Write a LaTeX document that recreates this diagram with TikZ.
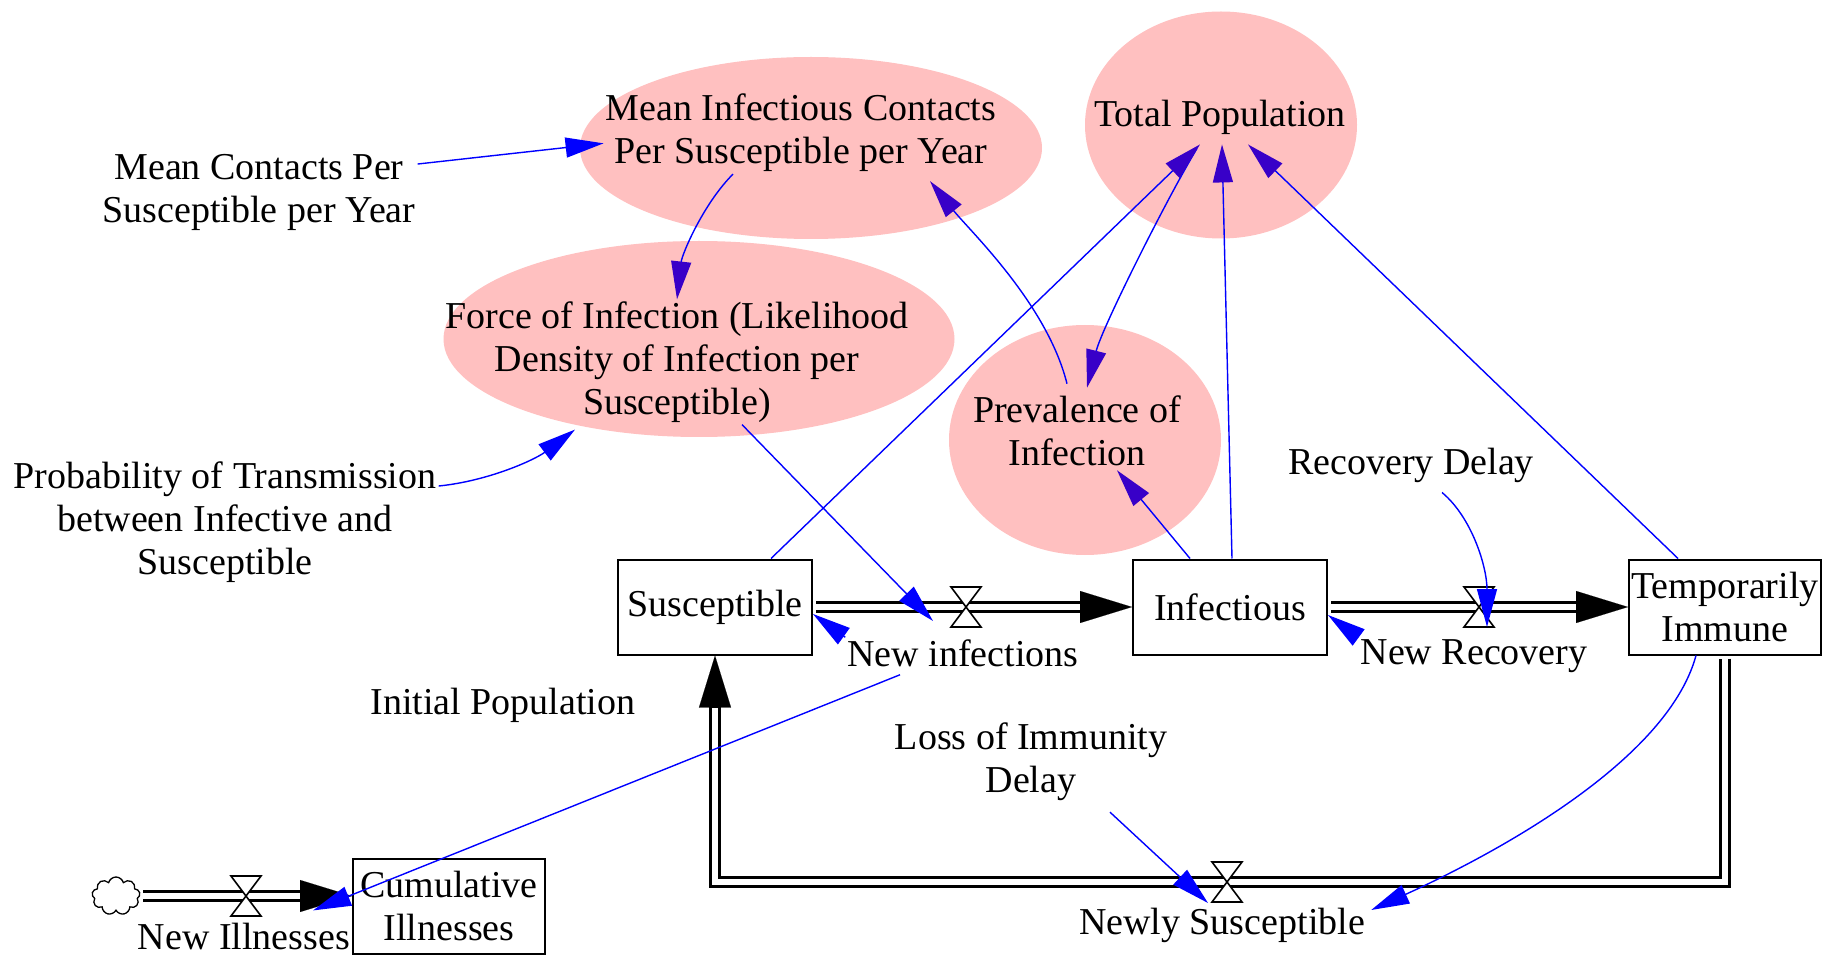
\documentclass[tikz,border=0pt]{standalone}
\usepackage{fontspec}
\setmainfont{Liberation Serif}
\usetikzlibrary{arrows.meta,shapes.geometric,shapes.symbols,calc}
\definecolor{pinkfill}{RGB}{255,192,192}
\definecolor{linkblue}{RGB}{0,0,255}
\definecolor{tipviolet}{RGB}{56,0,200}
\newcommand\flowpipe[1]{\draw[pipeouter] #1; \draw[pipeinner] #1;}
\tikzset{
  stock/.style={draw=black, line width=2pt, fill=white, minimum width=194pt, minimum height=95pt, inner sep=0pt, align=center},
  aux/.style={ellipse, fill=pinkfill, draw=none, inner sep=0pt},
  lbl/.style={inner sep=2pt, align=center},
  link/.style={draw=linkblue, line width=1.4pt, -{Triangle[length=38pt,width=20pt]}},
  plink/.style={draw=linkblue, line width=1.4pt, -{Triangle[length=38pt,width=20pt,color=tipviolet]}},
  pipeouter/.style={draw=black, line width=11.5pt, line join=miter, shorten <=3pt, -{Triangle[length=52pt,width=32pt,line width=0.1pt]}},
  pipeinner/.style={draw=white, line width=6pt, line join=miter, shorten <=3pt, shorten >=52pt},
  valve/.pic={\draw[black, line width=1.6pt, fill=white, line join=miter] (-15,-20) -- (15,-20) -- (-15,20) -- (15,20) -- cycle;}
}
\begin{document}
\begin{tikzpicture}[x=1pt,y=-1pt,font=\fontsize{38pt}{43pt}\selectfont]
\useasboundingbox (0,0) rectangle (1829,957);
\fill[white] (0,0) rectangle (1829,957);
% auxiliary ellipses
\node[aux, minimum width=462pt, minimum height=182pt] (micE) at (811,148) {};
\node[aux, minimum width=272pt, minimum height=227pt] (tpE) at (1221,125) {};
\node[aux, minimum width=511pt, minimum height=196pt] (foiE) at (699,339) {};
\node[aux, minimum width=272pt, minimum height=230pt] (prevE) at (1085,440) {};
% stocks
\node[stock] (S) at (715,607) {Susceptible};
\node[stock] (I) at (1230,607) {Infectious};
\node[stock, minimum width=192pt] (TI) at (1725,607) {Temporarily\\Immune};
\node[stock, minimum width=192pt] (C) at (449,906) {Cumulative\\Illnesses};
\node[cloud, draw=black, line width=1.3pt, fill=white, cloud puffs=9, minimum width=48pt, minimum height=38pt, inner sep=0pt] (src) at (116,896) {};
% valves
\coordinate (v1) at (966,607);
\coordinate (v2) at (1479,607);
\coordinate (v3) at (1227,882);
\coordinate (v4) at (246,896);
% flows
\flowpipe{(S.east) -- (S.east -| I.west)}
\flowpipe{(I.east) -- (I.east -| TI.west)}
\flowpipe{(TI.south) |- (v3) -| (S.south)}
\flowpipe{(src.east) -- (src.east -| C.west)}
\pic at (v1) {valve};
\pic at (v2) {valve};
\pic at (v3) {valve};
\pic at (v4) {valve};
% texts
\node[lbl] (mc) at (259,192) {Mean Contacts Per\\Susceptible per Year};
\node[lbl] (mict) at (801,133) {Mean Infectious Contacts\\Per Susceptible per Year};
\node[lbl] (tpt) at (1220,117) {Total Population};
\node[lbl] (foit) at (677,362) {Force of Infection (Likelihood\\Density of Infection per\\Susceptible)};
\node[lbl] (prevt) at (1077,431) {Prevalence of\\Infection};
\node[lbl] (prob) at (225,522) {Probability of Transmission\\between Infective and\\Susceptible};
\node[lbl] (rd) at (1411,465) {Recovery Delay};
\node[lbl] (ip) at (503,705) {Initial Population};
\node[lbl] (li) at (1031,762) {Loss of Immunity\\Delay};
\node[lbl] (ni) at (963,653) {New infections};
\node[lbl] (nr) at (1474,656) {New Recovery};
\node[lbl] (nsl) at (1222,925) {Newly Susceptible};
\node[lbl] (nil) at (244,936) {New Illnesses};
% links
\draw[link] (mc.10) -- (mict.183);
\draw[plink] ([xshift=-68pt]mict.south) .. controls +(-30,30) and +(5,-45) .. (foit.north);
\draw[link] ([yshift=36pt]prob.east) .. controls +(50,-5) and +(-40,30) .. ([xshift=-102pt,yshift=-5pt]foit.south);
\draw[link] ([xshift=65pt]foit.south) -- ([xshift=-33pt,yshift=-14pt]v1);
\draw[link] (ni.north west) -- ([yshift=-7pt]S.east);
\draw[plink] ([xshift=-10pt,yshift=10pt]prevt.north) .. controls +(-20,-80) and +(40,50) .. ([xshift=129pt,yshift=-7pt]mict.south);
\draw[plink] ([xshift=-23pt,yshift=-12pt]tpt.south) .. controls +(-30,50) and +(15,-60) .. ([xshift=10pt,yshift=6pt]prevt.north);
\draw[plink] ([xshift=56pt]S.north) -- ([xshift=-20pt,yshift=-8pt]tpt.south);
\draw[plink] ([xshift=2pt]I.north) -- ([xshift=2pt,yshift=-8pt]tpt.south);
\draw[plink] ([xshift=-47pt]TI.north) -- ([xshift=28pt,yshift=-8pt]tpt.south);
\draw[plink] ([xshift=-40pt]I.north) -- ([xshift=40pt,yshift=-2pt]prevt.south);
\draw[link] ([xshift=31pt,yshift=-8pt]rd.south) .. controls +(30,25) and +(0,-60) .. ([xshift=8pt,yshift=-20pt]v2);
\draw[link] (nr.north west) -- ([yshift=-8pt]I.east);
\draw[link] ([xshift=79pt,yshift=-9pt]li.south) -- ([xshift=-19pt,yshift=-21pt]v3);
\draw[link] ([xshift=-29pt]TI.south) .. controls +(-30,110) and +(110,-50) .. ([xshift=4pt,yshift=15pt]nsl.east);
\draw[link] ([xshift=-63pt,yshift=-6pt]ni.south) -- ([xshift=69pt,yshift=10pt]nil.north);
\end{tikzpicture}
\end{document}
